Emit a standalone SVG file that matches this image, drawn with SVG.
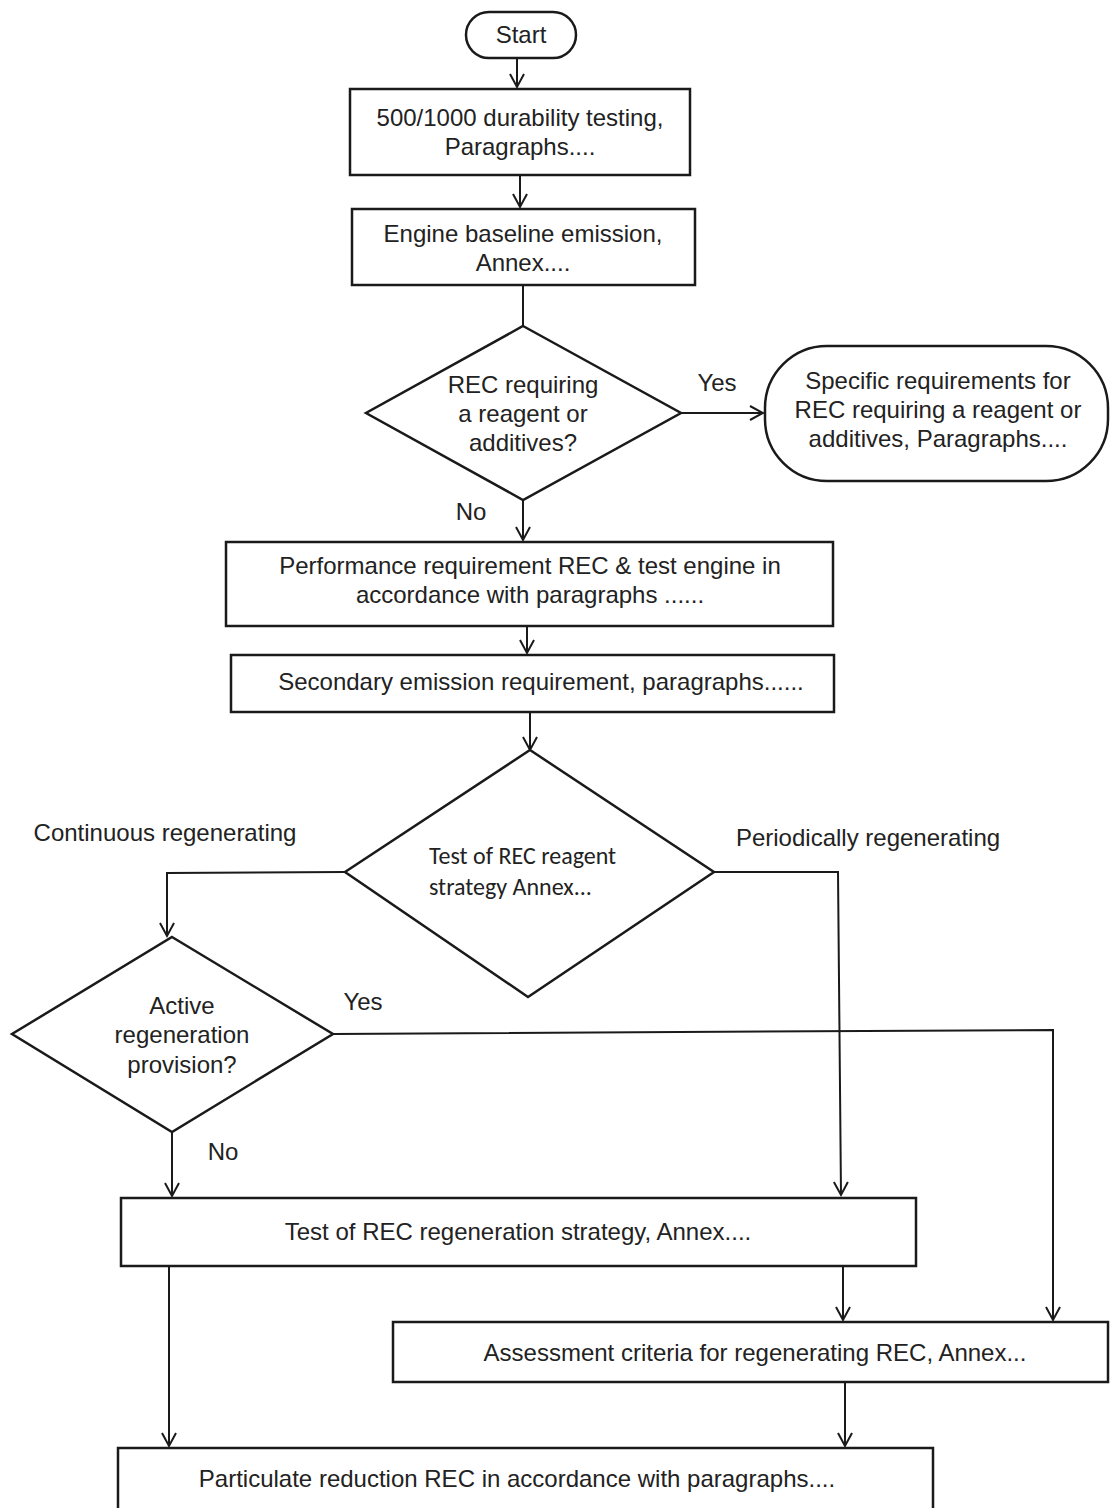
<svg xmlns="http://www.w3.org/2000/svg" width="1110" height="1508" viewBox="0 0 1110 1508">
<style>
.n{fill:#fff;stroke:#1a1a1a;stroke-width:2.5}
.t{font-family:"Liberation Sans",Arial,sans-serif;font-size:24px;fill:#222;text-anchor:middle;dominant-baseline:central}
.c{font-family:Carlito,"Liberation Sans",sans-serif;font-size:24px;fill:#222;dominant-baseline:central}
.e{fill:none;stroke:#1a1a1a;stroke-width:2}
</style>
<defs>
<marker id="a" markerWidth="18" markerHeight="18" refX="14" refY="8" orient="auto" markerUnits="userSpaceOnUse">
<path d="M1,1 L14,8 L1,15" fill="none" stroke="#1a1a1a" stroke-width="2"/>
</marker>
</defs>
<rect width="1110" height="1508" fill="#fff"/>
<g id="connectors">
<path class="e" d="M517,58 V87" marker-end="url(#a)"/>
<path class="e" d="M520,175 V207" marker-end="url(#a)"/>
<path class="e" d="M523,285 V326"/>
<path class="e" d="M681,413 H763" marker-end="url(#a)"/>
<path class="e" d="M523,500 V540" marker-end="url(#a)"/>
<path class="e" d="M527,626 V653" marker-end="url(#a)"/>
<path class="e" d="M530,712 V750" marker-end="url(#a)"/>
<path class="e" d="M345,872 L167,873 V936" marker-end="url(#a)"/>
<path class="e" d="M714,872 H838 L841,1195" marker-end="url(#a)"/>
<path class="e" d="M333,1034 L1053,1030 V1320" marker-end="url(#a)"/>
<path class="e" d="M172,1132 V1196" marker-end="url(#a)"/>
<path class="e" d="M169,1266 V1446" marker-end="url(#a)"/>
<path class="e" d="M843,1266 V1320" marker-end="url(#a)"/>
<path class="e" d="M845,1382 V1446" marker-end="url(#a)"/>
<text class="t" x="717" y="382">Yes</text>
<text class="t" x="471" y="511">No</text>
<text class="t" x="165" y="832">Continuous regenerating</text>
<text class="t" x="868" y="837">Periodically regenerating</text>
<text class="t" x="363" y="1001">Yes</text>
<text class="t" x="223" y="1151">No</text>
</g>
<g id="start">
<rect class="n" x="466" y="12" width="110" height="46" rx="23"/>
<text class="t" x="521" y="34">Start</text>
</g>
<g id="durability">
<rect class="n" x="350" y="89" width="340" height="86"/>
<text class="t" x="520" y="117">500/1000 durability testing,</text>
<text class="t" x="520" y="146">Paragraphs....</text>
</g>
<g id="baseline">
<rect class="n" x="352" y="209" width="343" height="76"/>
<text class="t" x="523" y="233">Engine baseline emission,</text>
<text class="t" x="523" y="262">Annex....</text>
</g>
<g id="reagentDecision">
<polygon class="n" points="523,326 681,413 523,500 366,413"/>
<text class="t" x="523" y="384">REC requiring</text>
<text class="t" x="523" y="413">a reagent or</text>
<text class="t" x="523" y="442">additives?</text>
</g>
<g id="specific">
<rect class="n" x="765" y="346" width="343" height="135" rx="62"/>
<text class="t" x="938" y="380">Specific requirements for</text>
<text class="t" x="938" y="409">REC requiring a reagent or</text>
<text class="t" x="938" y="438">additives, Paragraphs....</text>
</g>
<g id="performance">
<rect class="n" x="226" y="542" width="607" height="84"/>
<text class="t" x="530" y="565">Performance requirement REC &amp; test engine in</text>
<text class="t" x="530" y="594">accordance with paragraphs ......</text>
</g>
<g id="secondary">
<rect class="n" x="231" y="655" width="603" height="57" stroke-width="3"/>
<text class="t" x="541" y="681">Secondary emission requirement, paragraphs......</text>
</g>
<g id="strategyDecision">
<polygon class="n" points="530,750 714,872 528,997 345,872"/>
<text class="c" x="429" y="855">Test of REC reagent</text>
<text class="c" x="429" y="886">strategy Annex...</text>
</g>
<g id="activeDecision">
<polygon class="n" points="172,937 333,1034 172,1132 12,1034"/>
<text class="t" x="182" y="1005">Active</text>
<text class="t" x="182" y="1034">regeneration</text>
<text class="t" x="182" y="1064">provision?</text>
</g>
<g id="regenStrategy">
<rect class="n" x="121" y="1198" width="795" height="68"/>
<text class="t" x="518" y="1231">Test of REC regeneration strategy, Annex....</text>
</g>
<g id="assessment">
<rect class="n" x="393" y="1322" width="715" height="60"/>
<text class="t" x="755" y="1352">Assessment criteria for regenerating REC, Annex...</text>
</g>
<g id="particulate">
<rect class="n" x="118" y="1448" width="815" height="64"/>
<text class="t" x="517" y="1478">Particulate reduction REC in accordance with paragraphs....</text>
</g>
</svg>
